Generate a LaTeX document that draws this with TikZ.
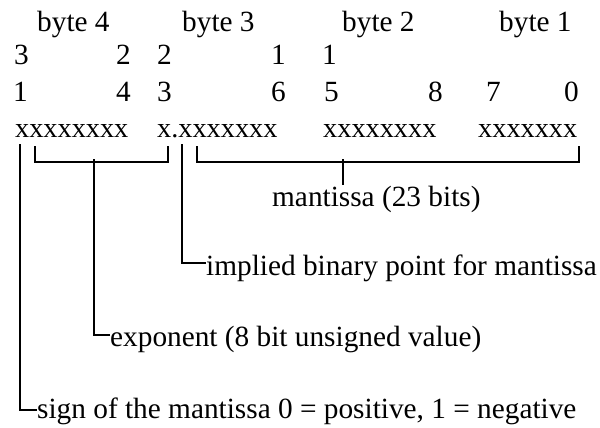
\documentclass[tikz,border=0pt]{standalone}
\usepackage{fontspec}
\setmainfont{Liberation Serif}
\begin{document}
\begin{tikzpicture}[x=1pt,y=-1pt,
  lbl/.style={inner sep=0pt, anchor=base west, font=\fontsize{29.3}{31}\selectfont},
  lblr/.style={lbl, anchor=base east},
  bits/.style={lbl, font=\fontsize{28.3}{30}\selectfont},
  conn/.style={line width=1.8pt}]
\useasboundingbox (0,0) rectangle (600,428);
% byte headers
\node[lbl] (h4) at (37,32) {byte 4};
\node[lbl] (h3) at (182,32) {byte 3};
\node[lbl] (h2) at (342,32) {byte 2};
\node[lbl] (h1) at (499,32) {byte 1};
% bit numbers, tens
\node[lbl]  (t31) at (14,65) {3};
\node[lblr] (t24) at (131,65) {2};
\node[lbl]  (t23) at (157,65) {2};
\node[lblr] (t16) at (286,65) {1};
\node[lbl]  (t15) at (322,65) {1};
% bit numbers, units
\node[lbl]  (u31) at (13,102) {1};
\node[lblr] (u24) at (131,102) {4};
\node[lbl]  (u23) at (157,102) {3};
\node[lblr] (u16) at (286,102) {6};
\node[lbl]  (u15) at (324,102) {5};
\node[lblr] (u8)  at (443,102) {8};
\node[lbl]  (u7)  at (486,102) {7};
\node[lblr] (u0)  at (579,102) {0};
% bits
\node[bits] (x4) at (15,137) {xxxxxxxx};
\node[bits] (x3) at (157,137) {x.xxxxxxx};
\node[bits] (x2) at (323,137) {xxxxxxxx};
\node[bits] (x1) at (478,137) {xxxxxxx};
% labels
\node[lbl] (man) at (272,206) {mantissa (23 bits)};
\node[lbl] (imp) at (206,275) {implied binary point for mantissa};
\node[lbl] (exp) at (110,346) {exponent (8 bit unsigned value)};
\node[lbl] (sgn) at (37,418) {sign of the mantissa 0 = positive, 1 = negative};
% bracket coordinates
\coordinate (sTop) at (20,144);
\coordinate (eL) at (35,159);
\coordinate (eR) at (168,159);
\coordinate (eM) at (94,159);
\coordinate (iTop) at (182,144);
\coordinate (mL) at (197,159);
\coordinate (mR) at (579,159);
\coordinate (mM) at (343,159);
% exponent bracket
\draw[conn] ([yshift=13pt]eL) -- ([yshift=-3pt]eL) -- ([yshift=-3pt]eR) -- ([yshift=13pt]eR);
\draw[conn] (eM) |- ([yshift=11pt]exp.base west);
% mantissa bracket
\draw[conn] ([yshift=13pt]mL) -- ([yshift=-3pt]mL) -- ([yshift=-3pt]mR) -- ([yshift=13pt]mR);
\draw[conn] (mM) -- (mM |- man.north);
% sign and implied point
\draw[conn] (sTop) |- ([yshift=8pt]sgn.base west);
\draw[conn] (iTop) |- ([yshift=12pt]imp.base west);
\end{tikzpicture}
\end{document}
